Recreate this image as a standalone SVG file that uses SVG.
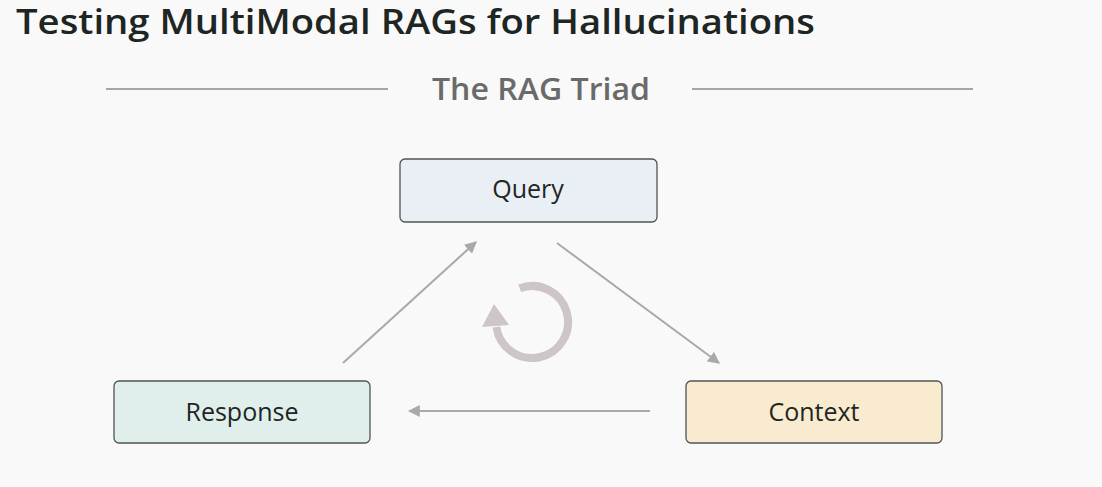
<svg xmlns="http://www.w3.org/2000/svg" width="1102" height="487" viewBox="0 0 1102 487">
<defs>
<style>
.title{font-family:"Open Sans","Liberation Sans",sans-serif;font-weight:600;font-size:34px;fill:#1e2624}
.sub{font-family:"Open Sans","Liberation Sans",sans-serif;font-weight:600;font-size:30px;fill:#6a6a6a}
.lbl{font-family:"Open Sans","Liberation Sans",sans-serif;font-weight:500;font-size:25px;fill:#1e2624;text-anchor:middle}
.box{stroke:#4f5553;stroke-width:1.3}
.conn{stroke:#a9a9a9;stroke-width:2;fill:none}
.rule{stroke:#8a8a8a;stroke-width:1.3}
</style>
<marker id="ah" viewBox="0 0 10 10" refX="9" refY="5" markerWidth="6" markerHeight="6" orient="auto" markerUnits="strokeWidth">
<path d="M0,0 L10,5 L0,10 z" fill="#a9a9a9"/>
</marker>
</defs>
<rect width="1102" height="487" fill="#f9f9f9"/>
<text class="title" x="16" y="34" textLength="799" lengthAdjust="spacingAndGlyphs">Testing MultiModal RAGs for Hallucinations</text>
<g id="heading">
<line class="rule" x1="106" y1="89" x2="388" y2="89"/>
<text class="sub" x="432" y="100" textLength="218" lengthAdjust="spacingAndGlyphs">The RAG Triad</text>
<line class="rule" x1="692" y1="89" x2="973" y2="89"/>
</g>
<g id="connectors">
<line class="conn" x1="343" y1="363" x2="476" y2="242" marker-end="url(#ah)"/>
<line class="conn" x1="557" y1="243" x2="719" y2="363" marker-end="url(#ah)"/>
<line class="conn" x1="650" y1="411" x2="409" y2="411" marker-end="url(#ah)"/>
</g>
<g id="cycle">
<path d="M519.7,288.2 A36,36 0 1 1 496.4,327" fill="none" stroke="#cdc5c8" stroke-width="8"/>
<path d="M482,327 L494,304 L509,325 z" fill="#cdc5c8"/>
</g>
<g id="query">
<rect class="box" x="400" y="159" width="257" height="63" rx="5" fill="#e9eff4"/>
<text class="lbl" x="528" y="198">Query</text>
</g>
<g id="response">
<rect class="box" x="114" y="381" width="256" height="62" rx="5" fill="#e1efec"/>
<text class="lbl" x="242" y="421">Response</text>
</g>
<g id="context">
<rect class="box" x="686" y="381" width="256" height="62" rx="5" fill="#f8ebd0"/>
<text class="lbl" x="814" y="421">Context</text>
</g>
</svg>
